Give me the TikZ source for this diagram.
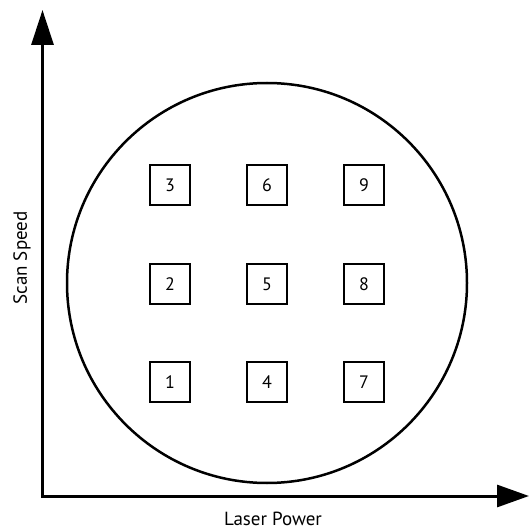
\documentclass[tikz,border=0pt]{standalone}
\usepackage{fontspec}
\setmainfont{PT Sans}
\usetikzlibrary{arrows.meta}
\begin{document}
\begin{tikzpicture}[x=1pt,y=-1pt,
  axis/.style={line width=3pt,{Triangle[length=35pt,width=22pt]}-{Triangle[length=32pt,width=22pt]}},
  cell/.style={draw,line width=1.5pt,minimum size=40pt,inner sep=0pt,font=\fontsize{18}{20}\selectfont},
  lbl/.style={inner sep=0pt,font=\fontsize{19}{21}\selectfont},
  wafer/.style={draw,circle,line width=2.5pt,minimum size=400pt,inner sep=0pt}]
\useasboundingbox (0,0) rectangle (530,529);
\coordinate (ytip) at (42.5,10);
\coordinate (origin) at (42.5,496);
\coordinate (xtip) at (529,496);
\draw[axis] (ytip) -- (origin) -- (xtip);
\node[wafer] (w) at (267,283) {};
\node[cell] (b1) at (170,382) {1};
\node[cell] (b2) at (170,284) {2};
\node[cell] (b3) at (170,185) {3};
\node[cell] (b4) at (267,382) {4};
\node[cell] (b5) at (267,284) {5};
\node[cell] (b6) at (267,185) {6};
\node[cell] (b7) at (364,382) {7};
\node[cell] (b8) at (364,284) {8};
\node[cell] (b9) at (364,185) {9};
\node[lbl,anchor=base] (xl) at (273,525) {Laser Power};
\node[lbl,rotate=90,anchor=base] (yl) at (27,258) {Scan Speed};
\end{tikzpicture}
\end{document}
